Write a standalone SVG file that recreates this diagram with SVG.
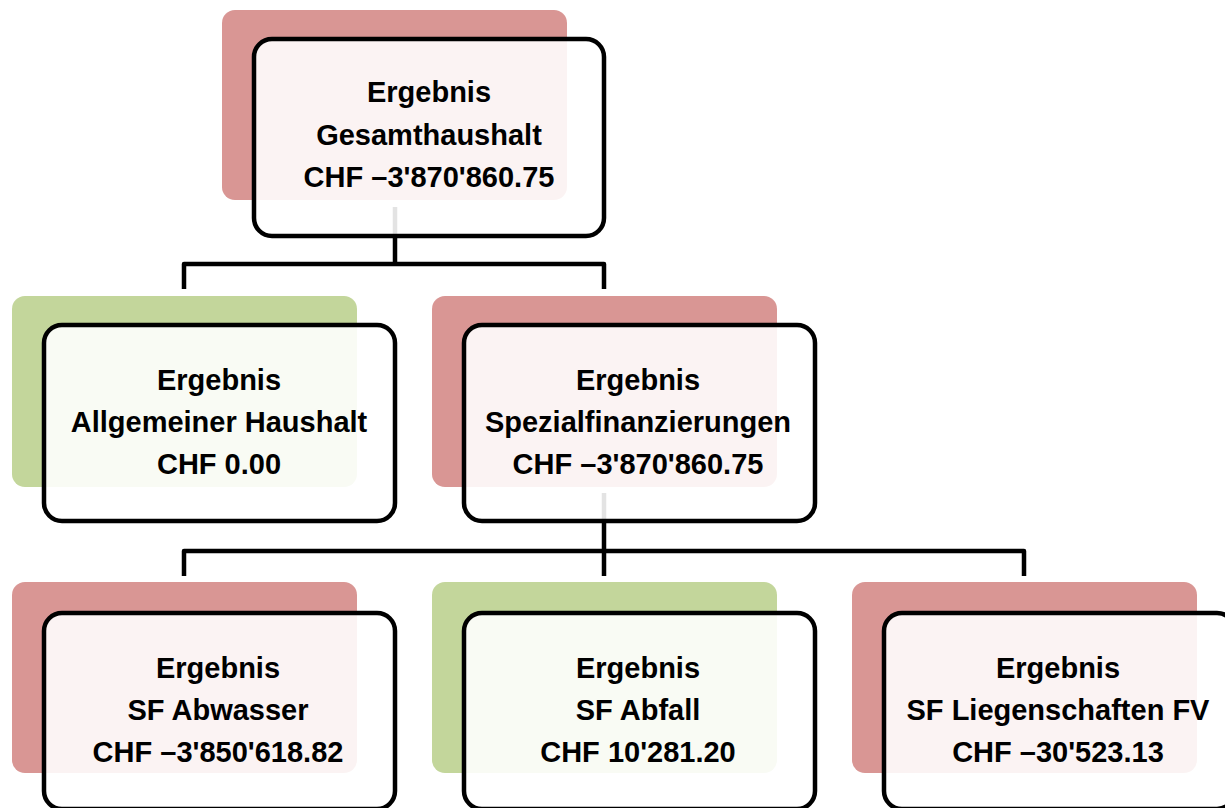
<svg xmlns="http://www.w3.org/2000/svg" width="1225" height="808" viewBox="0 0 1225 808">
<style>
.bk{stroke:none}
.red{fill:#d99694}
.green{fill:#c3d69b}
.fr{fill:#ffffff;fill-opacity:0.89;stroke:#000000;stroke-width:4.5}
.ln{fill:none;stroke:#000000;stroke-width:4.5;stroke-linejoin:round}
text{font-family:"Liberation Sans",Arial,sans-serif;font-weight:bold;font-size:29px;fill:#000000;text-anchor:middle}
</style>
<rect width="1225" height="808" fill="#ffffff"/>
<g id="backs">
<rect class="bk red" x="222" y="10" width="345" height="190" rx="13"/>
<rect class="bk green" x="12" y="296" width="345" height="191" rx="13"/>
<rect class="bk red" x="432" y="296" width="345" height="191" rx="13"/>
<rect class="bk red" x="12" y="582" width="345" height="191" rx="13"/>
<rect class="bk green" x="432" y="582" width="345" height="191" rx="13"/>
<rect class="bk red" x="852" y="582" width="345" height="191" rx="13"/>
</g>
<g id="connectors">
<path class="ln" d="M395 207 V264 M184 289 V264 H604 V289"/>
<path class="ln" d="M604 493 V576 M184 576 V551 H1024 V576"/>
</g>
<g id="n-gesamt">
<rect class="fr" x="254" y="39" width="350" height="197" rx="18"/>
<text x="429" y="102">Ergebnis</text>
<text x="429" y="145">Gesamthaushalt</text>
<text x="429" y="187">CHF –3'870'860.75</text>
</g>
<g id="n-allgemein">
<rect class="fr" x="44" y="325" width="351" height="196" rx="18"/>
<text x="219" y="390">Ergebnis</text>
<text x="219" y="432">Allgemeiner Haushalt</text>
<text x="219" y="474">CHF 0.00</text>
</g>
<g id="n-spezial">
<rect class="fr" x="464" y="325" width="351" height="196" rx="18"/>
<text x="638" y="390">Ergebnis</text>
<text x="638" y="432">Spezialfinanzierungen</text>
<text x="638" y="474">CHF –3'870'860.75</text>
</g>
<g id="n-abwasser">
<rect class="fr" x="44" y="613" width="351" height="196" rx="18"/>
<text x="218" y="678">Ergebnis</text>
<text x="218" y="720">SF Abwasser</text>
<text x="218" y="762">CHF –3'850'618.82</text>
</g>
<g id="n-abfall">
<rect class="fr" x="464" y="613" width="351" height="196" rx="18"/>
<text x="638" y="678">Ergebnis</text>
<text x="638" y="720">SF Abfall</text>
<text x="638" y="762">CHF 10'281.20</text>
</g>
<g id="n-liegenschaften">
<rect class="fr" x="884" y="613" width="351" height="196" rx="18"/>
<text x="1058" y="678">Ergebnis</text>
<text x="1058" y="720">SF Liegenschaften FV</text>
<text x="1058" y="762">CHF –30'523.13</text>
</g>
</svg>
